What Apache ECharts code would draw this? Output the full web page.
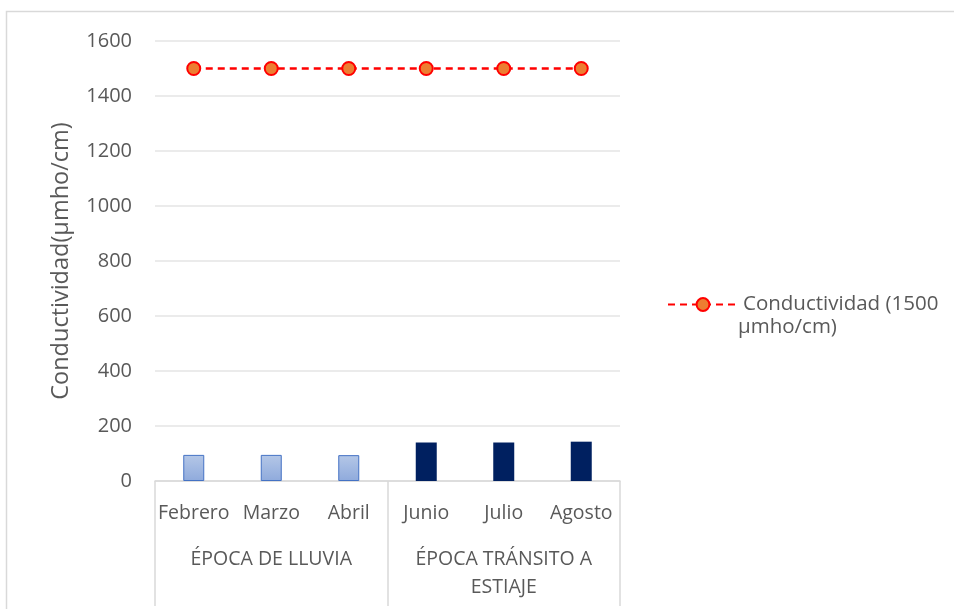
<!DOCTYPE html>
<html>
<head>
<meta charset="utf-8">
<script src="https://cdn.jsdelivr.net/npm/echarts@6/dist/echarts.min.js"></script>
<style>
	html, body { margin: 0; padding: 0; background: #fff; }
	#chart { width: 954px; height: 609px; }
</style>
</head>
<body>
<div id="chart"></div>
<script>
	// datos
	var meses = ['Febrero', 'Marzo', 'Abril', 'Junio', 'Julio', 'Agosto'];
	var epocas = ['ÉPOCA DE LLUVIA', 'ÉPOCA TRÁNSITO A\nESTIAJE'];
	var conductividad = [95, 95, 94, 140, 140, 143];
	var limite = [1500, 1500, 1500, 1500, 1500, 1500];
	var nombreLimite = 'Conductividad (1500 µmho/cm)';

	var gris = '#595959';
	var fuente = 'Open Sans';

	var barras = conductividad.map(function (v, i) {
		if (i < 3) {
			return {
				value: v,
				itemStyle: {
					color: {type: 'linear', x: 0, y: 0, x2: 0, y2: 1,
						colorStops: [{offset: 0, color: '#b4c7e7'}, {offset: 1, color: '#8faadc'}]},
					borderColor: '#4472c4',
					borderWidth: 1
				}
			};
		}
		return {value: v, itemStyle: {color: '#002060'}};
	});

	var myChart = echarts.init(document.getElementById('chart'));
	var option = {
		animation: false,
		textStyle: {fontFamily: fuente},
		grid: {left: 155, right: 334, top: 41, bottom: 128},
		legend: {
			orient: 'vertical',
			left: 662,
			top: 289,
			itemWidth: 70,
			itemHeight: 16,
			data: [nombreLimite],
			formatter: function () { return 'Conductividad (1500'; },
			textStyle: {color: gris, fontSize: 20.5, fontFamily: fuente}
		},
		graphic: [
			{type: 'rect', shape: {x: 6.5, y: 11.5, width: 1200, height: 1200},
				style: {fill: 'none', stroke: '#d9d9d9', lineWidth: 1.5}, silent: true},
			{type: 'text', left: 738, top: 317,
				style: {text: 'µmho/cm)', fill: gris, fontSize: 20.5, fontFamily: fuente}}
		],
		xAxis: [
			{
				type: 'category',
				data: meses,
				axisLine: {lineStyle: {color: '#d9d9d9', width: 1.5}},
				axisTick: {show: false},
				axisLabel: {color: gris, fontSize: 19.5, margin: 22, interval: 0}
			},
			{
				type: 'category',
				data: epocas,
				position: 'bottom',
				gridIndex: 0,
				axisLine: {show: false},
				axisTick: {show: true, length: 125, lineStyle: {color: '#d9d9d9', width: 1.5}},
				axisLabel: {color: gris, fontSize: 19.5, margin: 64, interval: 0, lineHeight: 28, verticalAlign: 'top'},
				splitLine: {show: false}
			}
		],
		yAxis: {
			type: 'value',
			min: 0,
			max: 1600,
			interval: 200,
			name: 'Conductividad(µmho/cm)',
			nameLocation: 'middle',
			nameGap: 82,
			nameTextStyle: {color: gris, fontSize: 23.5, fontFamily: fuente},
			axisLine: {show: false},
			axisTick: {show: false},
			axisLabel: {color: gris, fontSize: 20, margin: 23, formatter: function (v) { return String(v); }},
			splitLine: {lineStyle: {color: '#e4e4e4', width: 1.5}}
		},
		series: [
			{
				name: 'Conductividad',
				type: 'bar',
				barWidth: 21,
				data: barras
			},
			{
				name: nombreLimite,
				type: 'line',
				data: limite,
				symbol: 'circle',
				symbolSize: 13,
				lineStyle: {color: '#ff0000', width: 2.5, type: [7, 5]},
				itemStyle: {color: '#ed7d31', borderColor: '#ff0000', borderWidth: 2}
			}
		]
	};
	myChart.setOption(option);
</script>
</body>
</html>
